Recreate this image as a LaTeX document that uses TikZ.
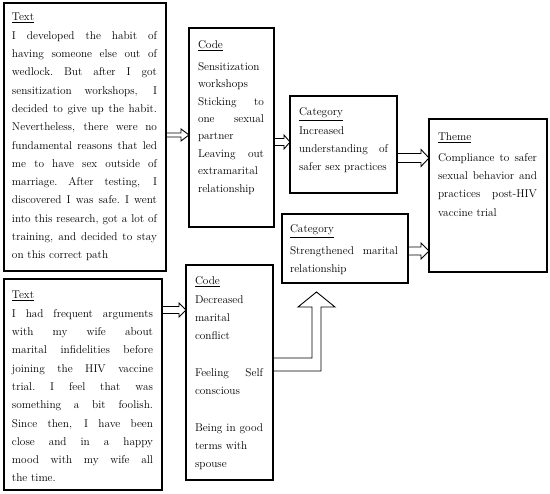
\documentclass[tikz,border=0pt]{standalone}
\usetikzlibrary{calc}
\tikzset{
  box/.style={draw, line width=1.2pt, inner sep=0pt, outer sep=0pt, anchor=north west},
  txt/.style={inner sep=0pt, outer sep=0pt, anchor=base west, align=left,
    font=\fontsize{11.3}{18.3}\selectfont},
  barrow/.style={draw, line width=0.9pt, line join=miter},
}
\newcommand{\jl}[1]{{\spaceskip=0.3333em plus 1fil\relax\xspaceskip=0.3333em plus 1fil\relax\makebox[\hsize][s]{#1}}}
\newcommand{\hd}[1]{\underline{#1}}
\newcommand{\blockarr}[5]{%
  \draw[barrow] let \p1=(#1), \p2=(#2) in
    (\x1,\y1+#3) -- (\x2-#5,\y1+#3) -- (\x2-#5,\y1+#4) -- (\x2,\y1)
    -- (\x2-#5,\y1-#4) -- (\x2-#5,\y1-#3) -- (\x1,\y1-#3);}
\begin{document}
\begin{tikzpicture}[x=1pt,y=-1pt]
\fill[white] (0,0) rectangle (550,494);
\useasboundingbox (0,0) rectangle (550,494);

% boxes
\node[box, minimum width=162pt, minimum height=268pt] (t1) at (4,3) {};
\node[box, minimum width=158pt, minimum height=211pt] (t2) at (4,279) {};
\node[box, minimum width=85pt,  minimum height=199pt] (c1) at (189,28) {};
\node[box, minimum width=87pt,  minimum height=215pt] (c2) at (186,265) {};
\node[box, minimum width=107pt, minimum height=97pt]  (k1) at (290,96) {};
\node[box, minimum width=126pt, minimum height=69pt]  (k2) at (282,214) {};
\node[box, minimum width=118pt, minimum height=153pt] (th) at (429,119) {};

% texts
\node[txt, text width=145pt] (t1txt) at (12,21) {\hd{Text}\\
\jl{I developed the habit of}\\
\jl{having someone else out of}\\
\jl{wedlock. But after I got}\\
\jl{sensitization workshops, I}\\
\jl{decided to give up the habit.}\\
\jl{Nevertheless, there were no}\\
\jl{fundamental reasons that led}\\
\jl{me to have sex outside of}\\
\jl{marriage. After testing, I}\\
\jl{discovered I was safe. I went}\\
\jl{into this research, got a lot of}\\
\jl{training, and decided to stay}\\
on this correct path};

\node[txt, text width=141pt] (t2txt) at (12,299) {\hd{Text}\\
\jl{I had frequent arguments}\\
\jl{with my wife about}\\
\jl{marital infidelities before}\\
\jl{joining the HIV vaccine}\\
\jl{trial. I feel that was}\\
\jl{something a bit foolish.}\\
\jl{Since then, I have been}\\
\jl{close and in a happy}\\
\jl{mood with my wife all}\\
the time.};

\node[txt, text width=66pt, font=\fontsize{11.3}{17.4}\selectfont] (c1txt) at (198,49) {\hd{Code}\\[4pt]
Sensitization\\
workshops\\
\jl{Sticking to}\\
\jl{one sexual}\\
partner\\
\jl{Leaving out}\\
extramarital\\
relationship};

\node[txt, text width=68pt] (c2txt) at (195,285) {\hd{Code}\\
Decreased\\
marital\\
conflict\\
\mbox{}\\
\jl{Feeling Self}\\
conscious\\
\mbox{}\\
\jl{Being in good}\\
terms with\\
spouse};

\node[txt, text width=89pt] (k1txt) at (299,116) {\hd{Category}\\
Increased\\
\jl{understanding of}\\
safer sex practices};

\node[txt, text width=108pt] (k2txt) at (290,233) {\hd{Category}\\[3pt]
\jl{Strengthened marital}\\
relationship};

\node[txt, text width=99pt] (thtxt) at (438,141) {\hd{Theme}\\[2pt]
\jl{Compliance to safer}\\
\jl{sexual behavior and}\\
\jl{practices post-HIV}\\
vaccine trial};

% arrow levels
\coordinate (y1) at (0,135);
\coordinate (y2) at (0,142);
\coordinate (y3) at (0,158);
\coordinate (y4) at (0,251);
\coordinate (y5) at (0,310);
\coordinate (e1) at (0,358);
\coordinate (e2) at (0,371);
\coordinate (tip) at (316.5,292);

\blockarr{t1.east |- y1}{c1.west |- y1}{2pt}{6pt}{8pt}
\blockarr{c1.east |- y2}{k1.west |- y2}{3.5pt}{7pt}{6pt}
\blockarr{k1.east |- y3}{th.west |- y3}{4.5pt}{8.5pt}{8pt}
\blockarr{k2.east |- y4}{th.west |- y4}{4pt}{8pt}{8pt}
\blockarr{t2.east |- y5}{c2.west |- y5}{3.5pt}{7pt}{7pt}

\draw[barrow] (c2.east |- e1) -- (312,358) -- (312,307) -- (298,307) -- (tip)
  -- (335,307) -- (321,307) -- (321,371) -- (c2.east |- e2);
\end{tikzpicture}
\end{document}
